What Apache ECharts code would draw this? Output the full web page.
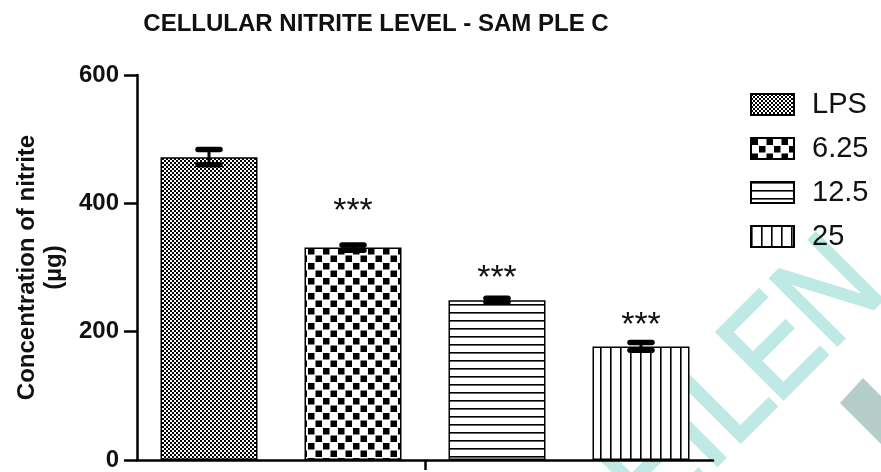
<!DOCTYPE html>
<html>
<head>
<meta charset="utf-8">
<script src="https://cdn.jsdelivr.net/npm/echarts@6/dist/echarts.min.js"></script>
<style>html,body{margin:0;padding:0;background:#fff;}#c{width:881px;height:472px;}</style>
</head>
<body>
<div id="c"></div>
<script>
// ---- data ----
const categories = ['Sample C'];
const seriesNames = ['LPS', '6.25', '12.5', '25'];
const means = [472, 331, 249, 177];
const errors = [12, 4, 3, 6];
const stars = ['', '***', '***', '***'];
const starLevels = [null, 395, 291, 218];
const yTicks = [0, 200, 400, 600];

// ---- patterns ----
function pat(kind) {
  const c = document.createElement('canvas');
  let ctx;
  if (kind === 0) {
    c.width = 4; c.height = 4; ctx = c.getContext('2d');
    ctx.fillStyle = '#fff'; ctx.fillRect(0, 0, 4, 4);
    ctx.fillStyle = '#000'; ctx.fillRect(0, 0, 2, 2); ctx.fillRect(2, 2, 2, 2);
  } else if (kind === 1) {
    c.width = 15; c.height = 15; ctx = c.getContext('2d');
    ctx.fillStyle = '#fff'; ctx.fillRect(0, 0, 15, 15);
    ctx.fillStyle = '#000'; ctx.fillRect(0.5, 0.5, 6.5, 6.5); ctx.fillRect(8, 8, 6.5, 6.5);
  } else if (kind === 2) {
    c.width = 8; c.height = 8; ctx = c.getContext('2d');
    ctx.fillStyle = '#fff'; ctx.fillRect(0, 0, 8, 8);
    ctx.fillStyle = '#000'; ctx.fillRect(0, 0, 8, 1.6);
  } else {
    c.width = 10; c.height = 10; ctx = c.getContext('2d');
    ctx.fillStyle = '#fff'; ctx.fillRect(0, 0, 10, 10);
    ctx.fillStyle = '#000'; ctx.fillRect(0, 0, 1.6, 10);
  }
  return { image: c, repeat: 'repeat' };
}

const BW = 97, GAP_PCT = 0.4845;
const FONT = '"Liberation Sans", Arial, sans-serif';

const barSeries = seriesNames.map((n, i) => ({
  name: n,
  type: 'bar',
  data: [means[i]],
  barWidth: BW,
  barGap: (GAP_PCT * 100) + '%',
  itemStyle: { color: pat(i), borderColor: '#000', borderWidth: 1.5 },
  z: 2
}));

const errData = means.map((m, i) => [0, m, errors[i], i]);

function renderErr(params, api) {
  const i = api.value(3);
  const mean = api.value(1), err = api.value(2);
  const c = api.coord([0, mean]);
  const x = c[0] + (i - 1.5) * (BW + BW * GAP_PCT);
  const yT = api.coord([0, mean + err])[1];
  const yB = api.coord([0, mean - err])[1];
  const capSt = { stroke: '#000', lineWidth: 5.5, lineCap: 'round' };
  const kids = [
    { type: 'line', shape: { x1: x, y1: yT, x2: x, y2: yB }, style: { stroke: '#000', lineWidth: 3 } },
    { type: 'line', shape: { x1: x - 11, y1: yT, x2: x + 11, y2: yT }, style: capSt },
    { type: 'line', shape: { x1: x - 11, y1: yB, x2: x + 11, y2: yB }, style: capSt }
  ];
  if (stars[i]) {
    const ys = api.coord([0, starLevels[i]])[1];
    kids.push({ type: 'text', style: { text: stars[i], x: x, y: ys + 5.5, align: 'center', verticalAlign: 'middle',
      fontSize: 34, fontFamily: FONT, fill: '#111' } });
  }
  return { type: 'group', children: kids };
}

// watermark letters (decorative)
const wmLetters = [['E', -186], ['I', -109], ['L', -75], ['E', -14], ['N', 62]];
const wmStyle = { fontSize: 137, fontFamily: FONT, fill: '#bfe9e4', stroke: '#bfe9e4', lineWidth: 3,
  align: 'left', verticalAlign: 'middle' };

const chart = echarts.init(document.getElementById('c'), null, { renderer: 'canvas' });
chart.setOption({
  animation: false,
  backgroundColor: '#fff',
  title: {
    text: 'CELLULAR NITRITE LEVEL - SAM PLE C',
    left: 371, top: 7, textAlign: 'center',
    textStyle: { fontSize: 24, fontWeight: 'bold', fontFamily: FONT, color: '#111' }
  },
  legend: {
    data: seriesNames,
    orient: 'vertical',
    left: 745, top: 85,
    icon: 'rect',
    itemWidth: 43, itemHeight: 21,
    itemGap: 15,
    textStyle: { fontSize: 29, fontFamily: FONT, color: '#111', padding: [0, 0, 0, 13] }
  },
  grid: { left: 137, right: 168, top: 75, bottom: 12, containLabel: false, outerBoundsMode: 'none' },
  xAxis: {
    type: 'category',
    data: categories,
    axisLine: { lineStyle: { color: '#000', width: 2.5 } },
    axisTick: { show: true, alignWithLabel: true, interval: 0, length: 10, lineStyle: { color: '#000', width: 2.5 } },
    axisLabel: { show: true, color: 'rgba(0,0,0,0)', fontSize: 1 }
  },
  yAxis: {
    type: 'value',
    min: 0, max: 600, interval: 200,
    name: 'Concentration of nitrite\n(µg)',
    nameLocation: 'middle',
    nameRotate: 90,
    nameGap: 69,
    nameTextStyle: { fontSize: 24, fontWeight: 'bold', fontFamily: FONT, color: '#111', lineHeight: 27 },
    axisLine: { show: true, lineStyle: { color: '#000', width: 2.5 } },
    axisTick: { show: true, length: 13, lineStyle: { color: '#000', width: 2.5 } },
    axisLabel: { fontSize: 24, fontWeight: 'bold', fontFamily: FONT, color: '#111', margin: 18,
      formatter: v => (yTicks.indexOf(v) >= 0 ? String(v) : '') },
    splitLine: { show: false }
  },
  graphic: [
    { type: 'group', x: 760, y: 369, rotation: Math.PI / 4, z: 100,
      children: wmLetters.map(([t, u]) => ({ type: 'text', x: u, y: 0, scaleX: 0.84,
        style: Object.assign({ text: t }, wmStyle) })) },
    { type: 'polygon', z: 100, shape: { points: [[840, 403], [863, 378], [881, 396], [881, 444]] },
      style: { fill: '#b4cdc8' } }
  ],
  series: barSeries.concat([{
    type: 'custom',
    renderItem: renderErr,
    data: errData,
    z: 5,
    silent: true
  }])
});
</script>
</body>
</html>
